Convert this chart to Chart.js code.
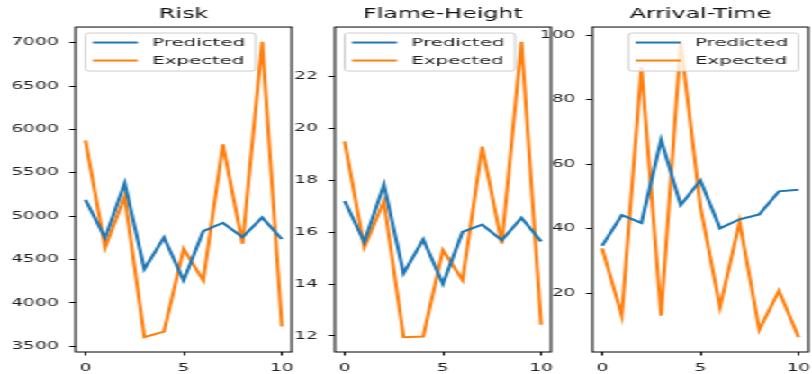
<!DOCTYPE html>
<html>
<head>
<meta charset="utf-8">
<script src="https://cdn.jsdelivr.net/npm/chart.js@4.4.1/dist/chart.umd.min.js"></script>
<style>
  html, body { margin: 0; padding: 0; background: #ffffff; overflow: hidden; }
  #wrap { position: absolute; left: 0; top: 0; width: 451px; height: 374px;
          transform: scaleX(1.8004); transform-origin: 0 0; }
  #wrap canvas { position: absolute; top: 0; }
</style>
</head>
<body>
<div id="wrap">
  <canvas id="c0"></canvas>
  <canvas id="c1"></canvas>
  <canvas id="c2"></canvas>
</div>
<script>
// ---- data ----
const xIndex = [0, 1, 2, 3, 4, 5, 6, 7, 8, 9, 10];
const xTicks = [0, 5, 10];
const seriesLabels = ['Predicted', 'Expected'];
const panelTitles = ['Risk', 'Flame-Height', 'Arrival-Time'];

const riskPredicted = [5190, 4750, 5380, 4390, 4755, 4258, 4827, 4923, 4758, 4985, 4735];
const riskExpected  = [5873, 4635, 5227, 3604, 3669, 4623, 4258, 5827, 4681, 7010, 3727];
const riskTicks = [3500, 4000, 4500, 5000, 5500, 6000, 6500, 7000];

const flamePredicted = [17.20, 15.62, 17.83, 14.41, 15.72, 14.00, 16.01, 16.29, 15.69, 16.55, 15.64];
const flameExpected  = [19.50, 15.41, 17.19, 11.95, 11.98, 15.31, 14.15, 19.30, 15.56, 23.34, 12.43];
const flameTicks = [12, 14, 16, 18, 20, 22];

const arrivalPredicted = [34.7, 44.2, 41.8, 67.6, 47.3, 55.0, 40.1, 42.9, 44.4, 51.6, 52.1];
const arrivalExpected  = [33.9, 13.0, 90.2, 13.0, 98.0, 47.0, 15.6, 42.1, 8.6, 20.7, 6.3];
const arrivalTicks = [20, 40, 60, 80, 100];

// ---- style / layout ----
const COLORS = ['#1f77b4', '#ff7f0e'];
const FONT = 'DejaVu Sans';
const TEXT = '#1e1e1e';
const AXIS_W = 44, PAD_R = 6, PLOT_W = 120.4, H = 374;
const panelLefts = [41.7, 185.5, 329.3];
const legendCorners = ['left', 'left', 'right'];

const panels = [
  { pred: riskPredicted, exp: riskExpected, ticks: riskTicks },
  { pred: flamePredicted, exp: flameExpected, ticks: flameTicks },
  { pred: arrivalPredicted, exp: arrivalExpected, ticks: arrivalTicks }
];

const framePlugin = {
  id: 'frame',
  afterDatasetsDraw(chart, args, opts) {
    const ctx = chart.ctx, a = chart.chartArea;
    const w = 94.5, h = 38;
    const x0 = opts.corner === 'left' ? a.left + 5.5 : a.right - 5.5 - w;
    const y0 = a.top + 6;
    ctx.save();
    ctx.beginPath();
    if (ctx.roundRect) ctx.roundRect(x0, y0, w, h, 2); else ctx.rect(x0, y0, w, h);
    ctx.fillStyle = 'rgba(255,255,255,0.8)';
    ctx.fill();
    ctx.strokeStyle = '#cccccc';
    ctx.lineWidth = 1;
    ctx.stroke();
    ctx.font = '11px "' + FONT + '"';
    ctx.textBaseline = 'middle';
    ctx.textAlign = 'left';
    chart.data.datasets.forEach((ds, i) => {
      const cy = y0 + 9.5 + i * 18;
      ctx.beginPath();
      ctx.moveTo(x0 + 4, cy);
      ctx.lineTo(x0 + 29, cy);
      ctx.strokeStyle = ds.borderColor;
      ctx.lineWidth = ds.borderWidth;
      ctx.stroke();
      ctx.fillStyle = TEXT;
      ctx.fillText(ds.label, x0 + 37, cy + 0.5);
    });
    ctx.restore();
  },
  afterDraw(chart) {
    const ctx = chart.ctx, a = chart.chartArea;
    ctx.save();
    ctx.strokeStyle = '#000000';
    ctx.lineWidth = 1;
    ctx.strokeRect(a.left, a.top, a.right - a.left, a.bottom - a.top);
    ctx.restore();
  }
};

function autoRange(arrs) {
  const all = [].concat(...arrs);
  const mn = Math.min(...all), mx = Math.max(...all);
  const m = (mx - mn) * 0.05;
  return [mn - m, mx + m];
}

panels.forEach((p, i) => {
  const canvas = document.getElementById('c' + i);
  const cw = AXIS_W + PLOT_W + PAD_R;
  canvas.width = Math.round(cw * 10) / 10;
  canvas.height = H;
  canvas.style.left = (panelLefts[i] - AXIS_W) + 'px';
  const [ymin, ymax] = autoRange([p.pred, p.exp]);
  new Chart(canvas, {
    type: 'line',
    data: {
      datasets: [
        { label: seriesLabels[0], data: xIndex.map((x, k) => ({ x, y: p.pred[k] })),
          borderColor: COLORS[0], backgroundColor: COLORS[0], borderWidth: 2,
          pointRadius: 0, tension: 0, fill: false },
        { label: seriesLabels[1], data: xIndex.map((x, k) => ({ x, y: p.exp[k] })),
          borderColor: COLORS[1], backgroundColor: COLORS[1], borderWidth: 2,
          pointRadius: 0, tension: 0, fill: false }
      ]
    },
    options: {
      responsive: false,
      animation: false,
      devicePixelRatio: 1,
      layout: { padding: { left: 0, right: PAD_R, top: 0, bottom: 0 } },
      plugins: {
        legend: { display: false },
        tooltip: { enabled: false },
        title: { display: true, text: panelTitles[i], fullSize: false, color: '#111',
                 font: { family: FONT, size: 13.2, weight: 'normal' },
                 padding: { top: 6.4, bottom: 4.8 } },
        frame: { corner: legendCorners[i] }
      },
      scales: {
        x: {
          type: 'linear', min: -0.5, max: 10.5,
          afterBuildTicks: s => { s.ticks = xTicks.map(v => ({ value: v })); },
          afterFit: s => { s.height = 22; s.paddingLeft = 0; s.paddingRight = 0; },
          border: { display: false },
          grid: { drawOnChartArea: false, drawTicks: true, tickLength: 3.5, tickColor: '#000', lineWidth: 1 },
          ticks: { color: TEXT, font: { family: FONT, size: 10.3 }, padding: 7, maxRotation: 0,
                   callback: v => String(v) }
        },
        y: {
          type: 'linear', min: ymin, max: ymax,
          afterBuildTicks: s => { s.ticks = p.ticks.map(v => ({ value: v })); },
          afterFit: s => { s.width = AXIS_W; s.paddingTop = 0; s.paddingBottom = 0; },
          border: { display: false },
          grid: { drawOnChartArea: false, drawTicks: true, tickLength: 3.5, tickColor: '#000', lineWidth: 1 },
          ticks: { color: TEXT, font: { family: FONT, size: 10.3 }, padding: 6,
                   callback: v => String(v) }
        }
      }
    },
    plugins: [framePlugin]
  });
});
</script>
</body>
</html>
